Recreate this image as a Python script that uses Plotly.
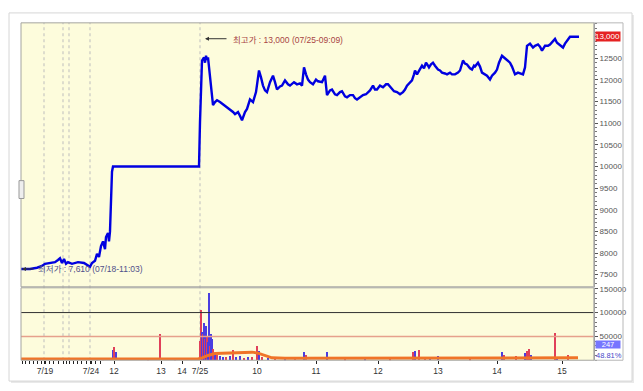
import plotly.graph_objects as go

# ---------------- data ----------------
# bar index (time-ordered sequence position) and closing price
price_idx = [0, 9, 16, 21, 24, 29, 34, 37, 39, 41, 43, 45, 47, 51, 57, 63, 67, 69, 71, 74, 76, 78, 80, 82, 84, 85, 87, 88, 89, 90, 91, 92,
             178, 179, 180, 181, 183, 184, 185, 186, 187, 189, 191, 192, 194, 196, 199, 202, 205, 209, 212, 214, 217, 219, 221, 224, 226,
             229, 232, 235, 238, 240, 242, 244, 246, 249, 252, 254, 256, 259, 261, 264, 267, 269, 273, 276, 279, 281, 283, 285, 287, 289,
             292, 295, 297, 301, 304, 306, 309, 311, 314, 316, 319, 321, 324, 326, 329, 332, 334, 336, 339, 342, 345, 347, 349, 352, 354,
             356, 359, 362, 365, 367, 370, 373, 376, 379, 382, 384, 386, 389, 391, 393, 394, 396, 397, 399, 401, 403, 405, 407, 408, 410,
             412, 414, 417, 419, 421, 424, 426, 429, 431, 434, 437, 439, 441, 442, 444, 446, 449, 451, 453, 454, 457, 459, 461, 464, 466,
             469, 471, 474, 476, 478, 481, 483, 486, 489, 491, 494, 497, 499, 502, 504, 505, 506, 509, 512, 514, 517, 519, 521, 524, 527,
             529, 532, 534, 536, 538, 540, 542, 544, 546, 549, 558]
price_val = [7630, 7630, 7660, 7700, 7750, 7770, 7790, 7840, 7880, 7770, 7860, 7750, 7790, 7750, 7790, 7770, 7700, 7680, 7770, 7820,
             7980, 7910, 8160, 8270, 8090, 8370, 8460, 8270, 8500, 9190, 9880, 10000,
             10000, 11030, 12060, 12450, 12520, 12400, 12560, 12470, 12520, 12060, 11600, 11420, 11490, 11530, 11490, 11440, 11390,
             11330, 11260, 11210, 11260, 11170, 11070, 11260, 11330, 11550, 11490, 11720, 12220, 12060, 11870, 11760, 11720, 11950,
             12100, 11950, 11780, 11850, 11870, 11990, 11900, 11870, 11950, 11900, 11920, 11870, 12290, 12130, 12010, 11950, 11900,
             12010, 11970, 11950, 12100, 11650, 11760, 11780, 11670, 11650, 11720, 11740, 11620, 11600, 11650, 11650, 11580, 11550,
             11600, 11650, 11670, 11720, 11760, 11870, 11780, 11780, 11870, 11830, 11900, 11900, 11830, 11740, 11720, 11670, 11720,
             11780, 11870, 11950, 11990, 12130, 12220, 12130, 12170, 12270, 12330, 12270, 12400, 12330, 12290, 12360, 12400, 12330,
             12240, 12220, 12170, 12150, 12130, 12170, 12130, 12130, 12170, 12220, 12360, 12450, 12380, 12360, 12270, 12240, 12330,
             12310, 12400, 12310, 12170, 12130, 12100, 12010, 12100, 12170, 12240, 12400, 12560, 12520, 12470, 12400, 12310, 12130,
             12170, 12150, 12130, 12290, 12630, 12790, 12840, 12750, 12790, 12820, 12770, 12680, 12790, 12790, 12820, 12910, 12950,
             12860, 12820, 12790, 12750, 12840, 12910, 13000, 13000]

vol_idx = [76, 82, 87, 92, 93, 95, 127, 139, 154,
           179, 180, 181, 182, 183, 184, 185, 186, 187, 188, 189, 190, 191, 192, 194, 196, 199, 202, 205, 209, 212, 215, 219, 223,
           227, 231, 236, 238, 241, 247, 254, 264, 274, 283, 285, 306, 324, 344, 369, 392, 394, 398, 404, 409, 417, 449, 481, 483,
           495, 504, 506, 508, 510, 534, 536, 547]
vol_val = [3000, 4000, 5000, 22000, 28000, 18000, 3000, 55000, 2000,
           40000, 105000, 60000, 55000, 78000, 45000, 72000, 50000, 38000, 142000, 30000, 55000, 44000, 25000, 15000, 12000, 10000,
           8000, 7000, 9000, 22000, 8000, 10000, 6000, 8000, 7000, 30000, 20000, 8000, 6000, 5000, 4000, 5000, 18000, 12000, 17000,
           4000, 3000, 3000, 18000, 20000, 22000, 8000, 8000, 9000, 4000, 17000, 12000, 9000, 15000, 20000, 25000, 12000, 58000,
           8000, 12000]
vol_up = [0, 1, 1, 0, 1, 0, 1, 1, 1,
          1, 1, 0, 1, 0, 1, 0, 1, 0, 0, 1, 0, 0, 1, 0, 1, 0, 0, 1, 0, 1, 0, 0, 1, 0, 1, 1, 0, 1, 0, 1, 0, 1, 0, 1, 0,
          1, 0, 1, 1, 0, 1, 1, 0, 0, 1, 0, 1, 1, 0, 1, 1, 0, 1, 0, 1]

ma_idx = [0, 79, 139, 154, 177, 181, 187, 194, 204, 219, 231, 237, 244, 251, 264, 299, 379, 459, 557]
ma_val = [2500, 2500, 4000, 4000, 2500, 5000, 10000, 14000, 15000, 16000, 17000, 15000, 10000, 5000, 4000, 4000, 4500, 4500, 5000]

tick_idx = [24, 70, 93, 140, 161, 179, 236, 295, 357, 417, 476, 541]
tick_txt = ["7/19", "7/24", "12", "13", "14", "7/25", "10", "11", "12", "13", "14", "15"]
minor_idx = [1, 4, 8, 12, 16, 20, 23, 28, 32, 37, 42, 45, 48, 52, 56, 60, 65, 69, 74, 79, 93, 140, 161, 179]
day_sep_idx = [23, 42, 48, 69, 179]

price_ticks = [7500, 8000, 8500, 9000, 9500, 10000, 10500, 11000, 11500, 12000, 12500]
vol_ticks = [50000, 100000, 150000]

max_text = "최고가 : 13,000 (07/25-09:09)"
min_text = "최저가 : 7,610 (07/18-11:03)"
last_price = "13,000"
last_vol = "247"
vol_ratio = "48.81%"

# ---------------- layout helpers ----------------
W, H = 643, 391
def fx(p):
    return p / W
def fy(p):
    return 1 - p / H

PL, PR = 21, 594           # plot left / right (px)
PT, PB = 20, 286           # price panel top / bottom
VT, VB = 287, 360          # volume panel top / bottom
FONT = "Liberation Sans, Noto Sans CJK KR, sans-serif"
BG = "#fdfcdc"

fig = go.Figure()

fig.add_trace(go.Bar(
    x=vol_idx, y=vol_val, yaxis="y2", xaxis="x", width=1.0,
    marker=dict(color=["#e0405a" if u else "#4a3ee0" for u in vol_up], line=dict(width=0)),
    hoverinfo="skip", showlegend=False))
fig.add_trace(go.Scatter(
    x=ma_idx, y=ma_val, yaxis="y2", xaxis="x", mode="lines",
    line=dict(color="#f07428", width=3), hoverinfo="skip", showlegend=False))
fig.add_trace(go.Scatter(
    x=price_idx, y=price_val, yaxis="y", xaxis="x", mode="lines",
    line=dict(color="#0000e0", width=2.4), hoverinfo="skip", showlegend=False))

shapes = []
# card shadow and card
shapes.append(dict(type="rect", xref="paper", yref="paper", x0=fx(11), x1=fx(634), y0=fy(383), y1=fy(12),
                   fillcolor="#e9e9e9", line=dict(width=0), layer="below"))
shapes.append(dict(type="rect", xref="paper", yref="paper", x0=fx(9), x1=fx(632), y0=fy(381), y1=fy(10),
                   fillcolor="white", line=dict(color="#d6d6d6", width=1), layer="below"))
# panel backgrounds
shapes.append(dict(type="rect", xref="paper", yref="paper", x0=fx(PL), x1=fx(PR), y0=fy(PB), y1=fy(PT),
                   fillcolor=BG, line=dict(width=0), layer="below"))
shapes.append(dict(type="rect", xref="paper", yref="paper", x0=fx(PL), x1=fx(PR), y0=fy(VB), y1=fy(VT),
                   fillcolor=BG, line=dict(width=0), layer="below"))
# day separators
for d in day_sep_idx:
    shapes.append(dict(type="line", xref="x", yref="paper", x0=d, x1=d, y0=fy(VB), y1=fy(PT),
                       line=dict(color="#bdbdbd", width=1, dash="dot"), layer="below"))
# volume reference lines
shapes.append(dict(type="line", xref="paper", yref="y2", x0=fx(PL), x1=fx(PR), y0=100000, y1=100000,
                   line=dict(color="#303030", width=1)))
shapes.append(dict(type="line", xref="paper", yref="y2", x0=fx(PL), x1=fx(PR), y0=50000, y1=50000,
                   line=dict(color="#e6a08c", width=1.5)))
# panel borders
shapes.append(dict(type="rect", xref="paper", yref="paper", x0=fx(PL), x1=fx(PR), y0=fy(PB), y1=fy(PT),
                   line=dict(color="#a4a4a0", width=1)))
shapes.append(dict(type="rect", xref="paper", yref="paper", x0=fx(PL), x1=fx(PR), y0=fy(VB), y1=fy(VT),
                   line=dict(color="#a4a4a0", width=1)))
shapes.append(dict(type="rect", xref="paper", yref="paper", x0=fx(PR), x1=fx(623), y0=fy(VB), y1=fy(PT),
                   line=dict(color="#b8b8b8", width=1)))
# small side handle
shapes.append(dict(type="rect", xref="paper", yref="paper", x0=fx(19), x1=fx(24), y0=fy(197), y1=fy(179),
                   fillcolor="#eeeeee", line=dict(color="#999999", width=1)))

annotations = [
    dict(xref="paper", yref="y", x=fx(PR + 1), y=13000, xanchor="left", yanchor="middle", text=last_price,
         showarrow=False, bgcolor="#e52222", font=dict(family=FONT, size=8, color="white"), width=24, height=9,
         borderpad=0, align="right"),
    dict(xref="paper", yref="paper", x=fx(PR + 1), y=fy(344), xanchor="left", yanchor="middle", text=last_vol,
         showarrow=False, bgcolor="#7676ff", font=dict(family=FONT, size=7.5, color="white"), width=24, height=7,
         borderpad=0, align="center"),
    dict(xref="paper", yref="paper", x=fx(PR + 1), y=fy(355), xanchor="left", yanchor="middle", text=vol_ratio,
         showarrow=False, borderpad=0, font=dict(family=FONT, size=7.5, color="#4848c8")),
    dict(xref="paper", yref="paper", x=fx(231), y=fy(37), xanchor="left", yanchor="middle", text=max_text,
         showarrow=False, font=dict(family=FONT, size=8.5, color="#a84444")),
    dict(xref="paper", yref="paper", x=fx(205), y=fy(36), text="", showarrow=True, ax=23, ay=0,
         arrowhead=2, arrowsize=0.8, arrowwidth=1, arrowcolor="#333333"),
    dict(xref="paper", yref="paper", x=fx(36), y=fy(268), xanchor="left", yanchor="middle", text=min_text,
         showarrow=False, font=dict(family=FONT, size=8.5, color="#50508a")),
    dict(xref="paper", yref="paper", x=fx(22), y=fy(268), text="", showarrow=True, ax=13, ay=0,
         arrowhead=2, arrowsize=0.8, arrowwidth=1, arrowcolor="#333333"),
]

fig.update_layout(
    width=W, height=H, margin=dict(l=0, r=0, t=0, b=0),
    paper_bgcolor="white", plot_bgcolor=BG,
    bargap=0, barmode="overlay",
    shapes=shapes, annotations=annotations,
    xaxis=dict(domain=[fx(PL), fx(PR)], range=[0, PR - PL], anchor="y2",
               tickmode="array", tickvals=tick_idx, ticktext=tick_txt,
               ticks="outside", ticklen=3, tickcolor="#222", tickwidth=1,
               tickfont=dict(family=FONT, size=8.5, color="#333"),
               showgrid=False, zeroline=False, showline=False,
               minor=dict(tickmode="array", tickvals=minor_idx, ticks="outside", ticklen=3, tickcolor="#222")),
    yaxis=dict(domain=[fy(PB), fy(PT)], range=[7219, 13321], side="right", anchor="x",
               tickmode="array", tickvals=price_ticks, ticktext=[str(v) for v in price_ticks],
               ticks="outside", ticklen=3, tickcolor="#555", tickfont=dict(family=FONT, size=8, color="#555"),
               showgrid=False, zeroline=False, showline=True, linecolor="#777", linewidth=1,
               minor=dict(dtick=100, ticks="outside", ticklen=2, tickcolor="#777")),
    yaxis2=dict(domain=[fy(VB), fy(VT)], range=[0, 152000], side="right", anchor="x",
                tickmode="array", tickvals=vol_ticks, ticktext=[str(v) for v in vol_ticks],
                ticks="outside", ticklen=3, tickcolor="#555", tickfont=dict(family=FONT, size=8, color="#555"),
                showgrid=False, zeroline=False, showline=True, linecolor="#777", linewidth=1,
                minor=dict(dtick=10000, ticks="outside", ticklen=2, tickcolor="#777")),
)

fig.write_html("out.html", config={"displayModeBar": False},
               post_script="document.body.style.margin='0';document.body.style.overflow='hidden';")
